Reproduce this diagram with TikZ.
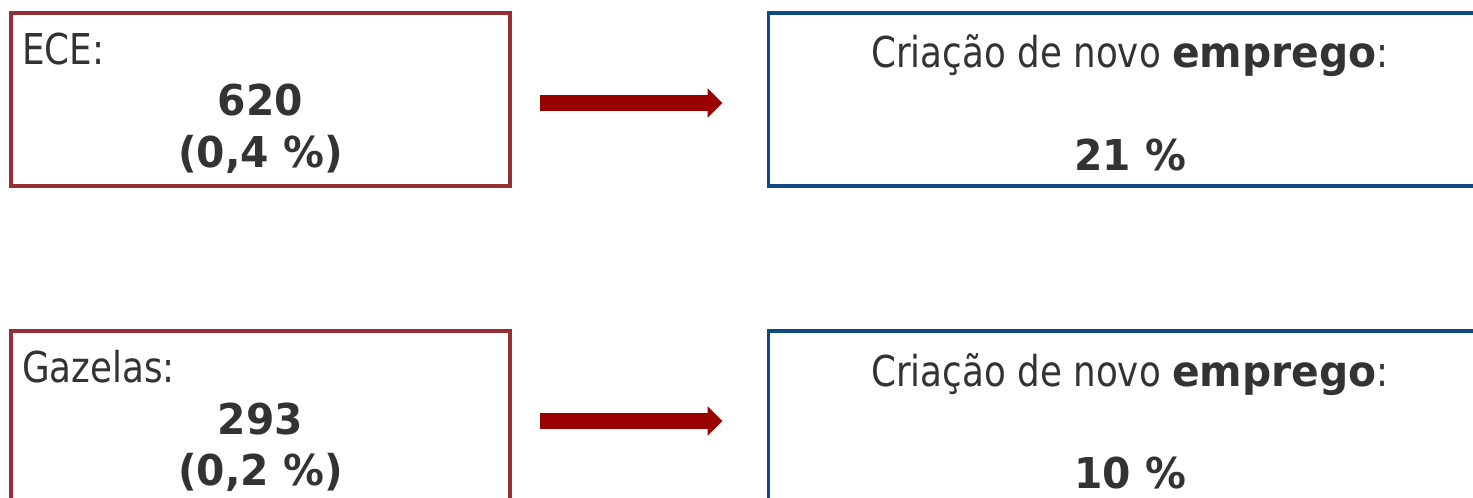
\documentclass[tikz,border=0pt]{standalone}
\usepackage{fontspec}
\setmainfont{DejaVu Sans}[FakeStretch=0.84, BoldFeatures={FakeStretch=0.96}]
\usetikzlibrary{arrows.meta}
\definecolor{boxred}{HTML}{962F34}
\definecolor{boxblue}{HTML}{0E4B84}
\definecolor{arrowred}{HTML}{990000}
\definecolor{txtgray}{HTML}{333333}

\begin{document}
\begin{tikzpicture}[x=0.5pt, y=-0.5pt,
        every node/.style={text=txtgray, inner sep=0pt, outer sep=0pt,
            font=\fontsize{21.25pt}{25.5pt}\selectfont},
        redbox/.style={draw=boxred, line width=1.75pt, minimum width=249.6pt, minimum height=86.6pt},
        bluebox/.style={draw=boxblue, line width=1.75pt, minimum width=361.5pt, minimum height=86.6pt},
        bigarrow/.style={draw=arrowred, line width=8pt, -{Triangle[length=7.5pt, width=14.5pt]},
            shorten <=15pt, shorten >=23pt}
    ]
        \useasboundingbox (0,0) rectangle (1473,498);

        % Linha de cima: ECE
        \node [redbox] (ecebox) at (260.5,99.5) {};
        \node [anchor=base west] (ecetitle) at (22,64) {ECE:};
        \node [anchor=base] (ececount) at (260.5,115) {\textbf{620}};
        \node [anchor=base] (eceshare) at (260.5,167) {\textbf{(0,4 \%)}};

        \node [bluebox] (empbox1) at (1130,99.5) {};
        \node [anchor=base] (emptitle1) at (1130,68) {Criação de novo \textbf{emprego}:};
        \node [anchor=base] (emprate1) at (1130,170) {\textbf{21 \%}};

        % Linha de baixo: Gazelas
        \node [redbox] (gazbox) at (260.5,417.5) {};
        \node [anchor=base west] (gaztitle) at (22,382) {Gazelas:};
        \node [anchor=base] (gazcount) at (260.5,434) {\textbf{293}};
        \node [anchor=base] (gazshare) at (260.5,485) {\textbf{(0,2 \%)}};

        \node [bluebox] (empbox2) at (1130,417.5) {};
        \node [anchor=base] (emptitle2) at (1130,386) {Criação de novo \textbf{emprego}:};
        \node [anchor=base] (emprate2) at (1130,488) {\textbf{10 \%}};

        % Setas
        \draw [bigarrow] ([yshift=-1.75pt]ecebox.east) -- ([yshift=-1.75pt]empbox1.west);
        \draw [bigarrow] ([yshift=-1.75pt]gazbox.east) -- ([yshift=-1.75pt]empbox2.west);
    \end{tikzpicture}
\end{document}
